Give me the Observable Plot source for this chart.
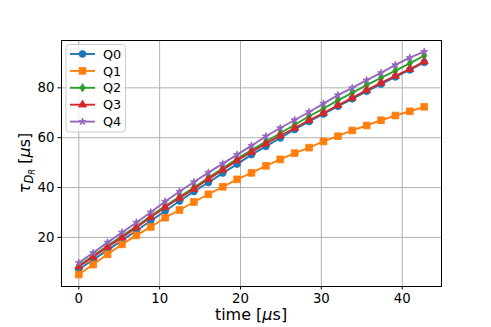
<!DOCTYPE html>
<html><head><meta charset="utf-8">
<script src="https://cdn.jsdelivr.net/npm/d3@7"></script>
<script src="https://cdn.jsdelivr.net/npm/@observablehq/plot@0.6"></script>
<style>
body{margin:0;background:#fff;}
#chart svg{display:block;}
</style>
</head><body><div id="chart"></div>
<script>
const times = [0, 1.78, 3.56, 5.34, 7.12, 8.9, 10.68, 12.46, 14.24, 16.02, 17.8, 19.58, 21.36, 23.14, 24.92, 26.7, 28.48, 30.26, 32.04, 33.82, 35.6, 37.38, 39.16, 40.94, 42.72];
const Q0 = [7.2, 11.0, 14.9, 18.8, 22.7, 26.7, 30.6, 34.6, 38.4, 42.0, 45.8, 49.4, 53.2, 56.5, 59.9, 63.3, 66.5, 69.5, 72.6, 75.6, 78.6, 81.5, 84.4, 87.2, 90.2];
const Q1 = [5.1, 9.1, 13.2, 17.2, 20.8, 24.2, 27.9, 31.0, 34.2, 37.3, 40.3, 43.3, 45.9, 48.7, 51.3, 53.8, 56.0, 58.5, 60.6, 62.9, 64.9, 67.0, 68.9, 70.6, 72.4];
const Q2 = [8.6, 12.6, 16.6, 20.5, 24.5, 28.6, 32.6, 36.3, 40.0, 43.9, 47.7, 51.5, 55.0, 58.4, 61.8, 65.2, 68.6, 71.7, 75.0, 78.0, 81.1, 84.0, 86.9, 89.8, 92.9];
const Q3 = [8.3, 12.2, 16.2, 20.0, 24.0, 28.1, 32.1, 35.8, 39.4, 43.4, 47.1, 50.9, 54.3, 57.6, 60.8, 63.9, 67.0, 69.9, 73.0, 76.0, 79.1, 82.0, 84.8, 87.5, 90.5];
const Q4 = [9.8, 13.8, 18.0, 22.0, 26.0, 30.1, 34.4, 38.4, 42.2, 46.0, 49.6, 53.2, 56.8, 60.6, 63.9, 67.1, 70.3, 73.7, 77.1, 80.0, 83.1, 86.0, 89.2, 92.1, 94.5];
const seriesNames = ["Q0", "Q1", "Q2", "Q3", "Q4"];
const seriesValues = [Q0, Q1, Q2, Q3, Q4];
const xTicks = [0, 10, 20, 30, 40];
const yTicks = [20, 40, 60, 80];

const colors = ["#1f77b4", "#ff7f0e", "#2ca02c", "#d62728", "#9467bd"];
const thinDiamond = {
  draw(ctx, size) {
    const s = Math.sqrt(size / Math.PI);
    ctx.moveTo(0, -s);
    ctx.lineTo(s * 0.62, 0);
    ctx.lineTo(0, s);
    ctx.lineTo(-s * 0.62, 0);
    ctx.closePath();
  }
};
const symbols = [d3.symbolCircle, d3.symbolSquare, thinDiamond, d3.symbolTriangle, d3.symbolStar];
const radii = [3.4, 3.8, 4.2, 3.0, 2.3];

const marks = [
  Plot.gridX(xTicks, {stroke: "#b0b0b0", strokeOpacity: 1, strokeWidth: 1}),
  Plot.gridY(yTicks, {stroke: "#b0b0b0", strokeOpacity: 1, strokeWidth: 1})
];
seriesNames.forEach((name, si) => {
  const rows = times.map((t, i) => ({t, v: seriesValues[si][i], name}));
  marks.push(Plot.line(rows, {x: "t", y: "v", stroke: colors[si], strokeWidth: 1.9}));
  marks.push(Plot.dot(rows, {x: "t", y: "v", symbol: () => symbols[si], fill: colors[si], stroke: colors[si], strokeWidth: 0.8, r: radii[si]}));
});
marks.push(Plot.frame({stroke: "black", strokeWidth: 1}));
marks.push(Plot.axisX(xTicks, {tickSize: 3.5, tickPadding: 3.5, label: null, stroke: "black", fill: "black"}));
marks.push(Plot.axisY(yTicks, {tickSize: 3.5, tickPadding: 3.5, label: null, stroke: "black", fill: "black"}));

const chart = Plot.plot({
  width: 491,
  height: 327,
  marginLeft: 61,
  marginRight: 50,
  marginTop: 40,
  marginBottom: 41,
  x: {domain: [-2.14, 44.86]},
  y: {domain: [0.3, 99.0]},
  symbol: {type: "identity"},
  style: {fontFamily: "DejaVu Sans", fontSize: "13.3px", color: "black", background: "white"},
  marks
});
document.getElementById("chart").appendChild(chart);

const svg = d3.select(chart);
const NS = "DejaVu Sans";
// x label
const xl = svg.append("text").attr("x", 251).attr("y", 320).style("text-anchor", "middle")
  .attr("font-family", NS).attr("font-size", 16).attr("fill", "black");
xl.append("tspan").text("time [");
xl.append("tspan").attr("font-style", "italic").text("μ");
xl.append("tspan").text("s]");
// y label
const yl = svg.append("text").attr("transform", "translate(30,163) rotate(-90)").style("text-anchor", "middle")
  .attr("font-family", NS).attr("font-size", 16).attr("fill", "black");
yl.append("tspan").attr("font-style", "italic").text("τ");
yl.append("tspan").attr("font-style", "italic").attr("font-size", 11.5).attr("dy", 3).text("D");
yl.append("tspan").attr("font-style", "italic").attr("font-size", 8.5).attr("dy", 2).text("R");
yl.append("tspan").attr("dy", -5).text(" [");
yl.append("tspan").attr("font-style", "italic").text("μ");
yl.append("tspan").text("s]");

// legend
const lg = svg.append("g");
lg.append("rect").attr("x", 66).attr("y", 44.5).attr("width", 59.5).attr("height", 87.5)
  .attr("rx", 3).attr("fill", "white").attr("fill-opacity", 0.8).attr("stroke", "#cccccc").attr("stroke-width", 1);
seriesNames.forEach((name, si) => {
  const y = 54 + si * 16.9;
  lg.append("line").attr("x1", 70).attr("x2", 95).attr("y1", y).attr("y2", y)
    .attr("stroke", colors[si]).attr("stroke-width", 1.9);
  lg.append("path").attr("transform", `translate(82.5,${y})`)
    .attr("d", d3.symbol(symbols[si], Math.PI * radii[si] * radii[si])())
    .attr("fill", colors[si]).attr("stroke", colors[si]).attr("stroke-width", 0.8);
  lg.append("text").attr("x", 103).attr("y", y).attr("dy", "0.36em").style("text-anchor", "start")
    .attr("font-family", NS).attr("font-size", 12.8).attr("fill", "black").text(name);
});
</script>
</body></html>
